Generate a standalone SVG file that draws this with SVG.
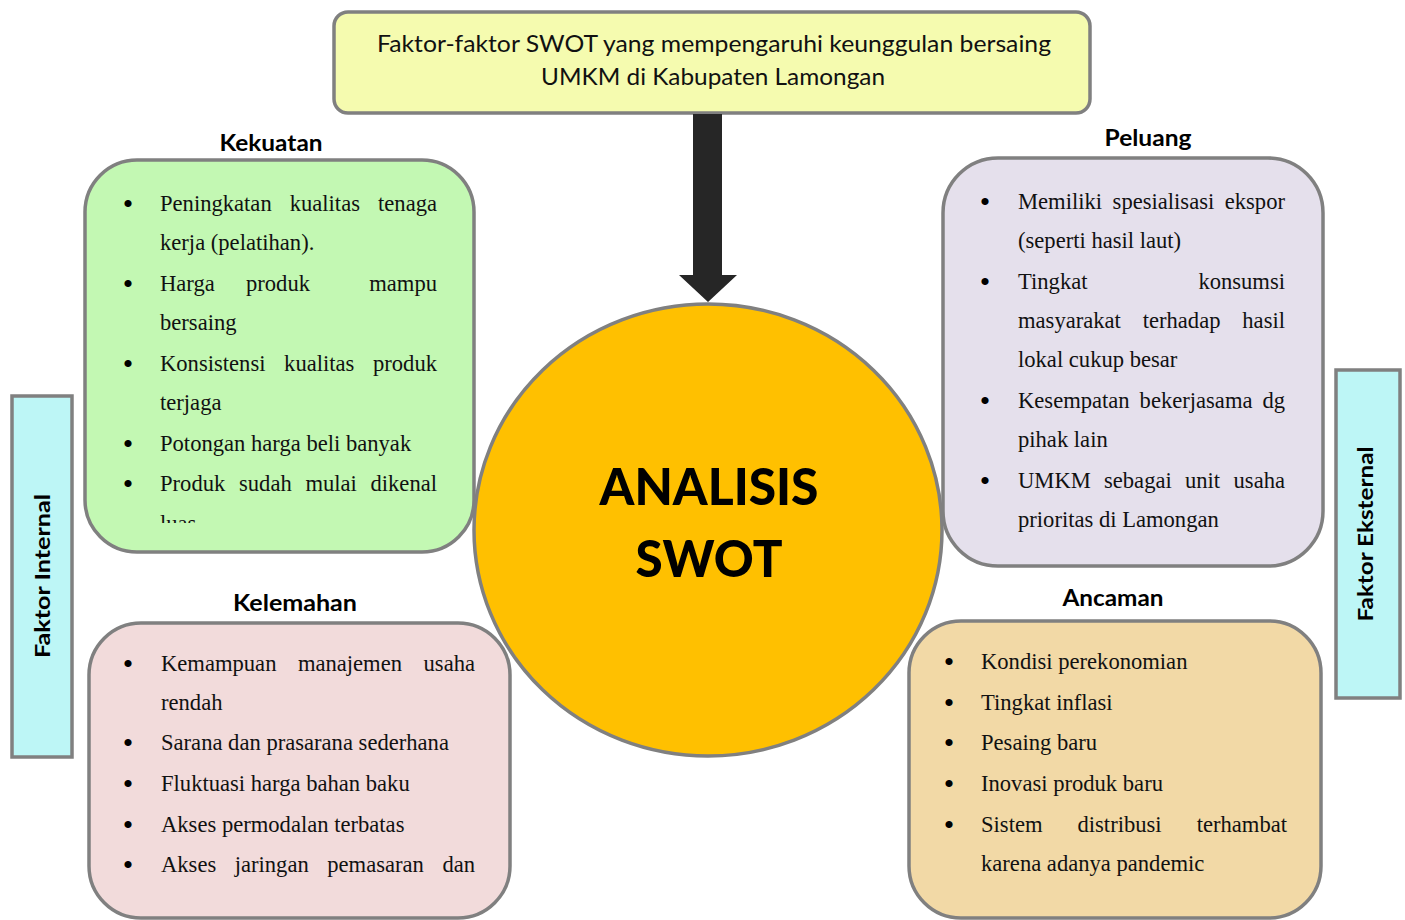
<svg xmlns="http://www.w3.org/2000/svg" width="1405" height="920" viewBox="0 0 1405 920">
<style>
.box{stroke:#808080;stroke-width:3.5}
.b{font-family:"Liberation Serif","Times New Roman",serif;font-size:22.6px;fill:#111}
.e{text-anchor:end}
.bl{font-family:"Liberation Serif","Times New Roman",serif;font-size:30px;fill:#000;text-anchor:middle}
.h{font-family:Lato,"Open Sans",sans-serif;font-weight:bold;font-size:22px;fill:#000;text-anchor:middle}
.t{font-family:Lato,"Open Sans",sans-serif;font-size:23px;fill:#111;text-anchor:middle}
.big{font-family:Lato,"Open Sans",sans-serif;font-weight:900;font-size:52px;fill:#000;text-anchor:middle}
.v{font-family:Lato,"Open Sans",sans-serif;font-weight:bold;font-size:21px;fill:#000;text-anchor:middle}
</style>
<defs>
<clipPath id="clipK"><rect x="85" y="160" width="389" height="363"/></clipPath>
</defs>
<rect width="1405" height="920" fill="#fff"/>

<g id="faktor-internal">
<rect class="box" x="12" y="396" width="60" height="361" fill="#BDF6F6"/>
<text class="v" transform="translate(50,576) rotate(-90)" textLength="164" lengthAdjust="spacingAndGlyphs">Faktor Internal</text>
</g>
<g id="faktor-eksternal">
<rect class="box" x="1336" y="370" width="64" height="328" fill="#BDF6F6"/>
<text class="v" transform="translate(1373,534) rotate(-90)" textLength="175" lengthAdjust="spacingAndGlyphs">Faktor Eksternal</text>
</g>

<g id="kekuatan">
<text class="h" x="271" y="151" textLength="103" lengthAdjust="spacingAndGlyphs">Kekuatan</text>
<rect class="box" x="85" y="160" width="389" height="392" rx="52" fill="#C3F8B3"/>
<g clip-path="url(#clipK)">
<text class="bl" x="128" y="214">•</text>
<text class="b" x="160" y="211">Peningkatan</text><text class="b" x="289.7" y="211">kualitas</text><text class="b e" x="437" y="211">tenaga</text>
<text class="b" x="160" y="250">kerja (pelatihan).</text>
<text class="bl" x="128" y="294">•</text>
<text class="b" x="160" y="291">Harga</text><text class="b" x="246" y="291">produk</text><text class="b e" x="437" y="291">mampu</text>
<text class="b" x="160" y="330">bersaing</text>
<text class="bl" x="128" y="374">•</text>
<text class="b" x="160" y="371">Konsistensi</text><text class="b" x="284.1" y="371">kualitas</text><text class="b e" x="437" y="371">produk</text>
<text class="b" x="160" y="410">terjaga</text>
<text class="bl" x="128" y="454">•</text>
<text class="b" x="160" y="451">Potongan harga beli banyak</text>
<text class="bl" x="128" y="494">•</text>
<text class="b" x="160" y="491">Produk</text><text class="b" x="239" y="491">sudah</text><text class="b" x="305.4" y="491">mulai</text><text class="b e" x="437" y="491">dikenal</text>
<text class="b" x="160" y="531">luas</text>
</g>
</g>

<g id="kelemahan">
<text class="h" x="295" y="611" textLength="124" lengthAdjust="spacingAndGlyphs">Kelemahan</text>
<rect class="box" x="89" y="623" width="421" height="295" rx="52" fill="#F2DBDB"/>
<text class="bl" x="128" y="674">•</text>
<text class="b" x="161" y="671">Kemampuan</text><text class="b" x="297.9" y="671">manajemen</text><text class="b e" x="475" y="671">usaha</text>
<text class="b" x="161" y="710">rendah</text>
<text class="bl" x="128" y="753">•</text>
<text class="b" x="161" y="750">Sarana dan prasarana sederhana</text>
<text class="bl" x="128" y="794">•</text>
<text class="b" x="161" y="791">Fluktuasi harga bahan baku</text>
<text class="bl" x="128" y="835">•</text>
<text class="b" x="161" y="832">Akses permodalan terbatas</text>
<text class="bl" x="128" y="875">•</text>
<text class="b" x="161" y="872">Akses</text><text class="b" x="234.7" y="872">jaringan</text><text class="b" x="327.3" y="872">pemasaran</text><text class="b e" x="475" y="872">dan</text>
</g>

<g id="peluang">
<text class="h" x="1148" y="146" textLength="87" lengthAdjust="spacingAndGlyphs">Peluang</text>
<rect class="box" x="943" y="158" width="380" height="408" rx="55" fill="#E5E0EC"/>
<text class="bl" x="985" y="212">•</text>
<text class="b" x="1018" y="209">Memiliki</text><text class="b" x="1112.6" y="209">spesialisasi</text><text class="b e" x="1285" y="209">ekspor</text>
<text class="b" x="1018" y="248">(seperti hasil laut)</text>
<text class="bl" x="985" y="292">•</text>
<text class="b" x="1018" y="289">Tingkat</text><text class="b e" x="1285" y="289">konsumsi</text>
<text class="b" x="1018" y="328">masyarakat</text><text class="b" x="1142.7" y="328">terhadap</text><text class="b e" x="1285" y="328">hasil</text>
<text class="b" x="1018" y="367">lokal cukup besar</text>
<text class="bl" x="985" y="411">•</text>
<text class="b" x="1018" y="408">Kesempatan</text><text class="b" x="1139.6" y="408">bekerjasama</text><text class="b e" x="1285" y="408">dg</text>
<text class="b" x="1018" y="447">pihak lain</text>
<text class="bl" x="985" y="491">•</text>
<text class="b" x="1018" y="488">UMKM</text><text class="b" x="1104" y="488">sebagai</text><text class="b" x="1185" y="488">unit</text><text class="b e" x="1285" y="488">usaha</text>
<text class="b" x="1018" y="527">prioritas di Lamongan</text>
</g>

<g id="ancaman">
<text class="h" x="1113" y="606" textLength="101" lengthAdjust="spacingAndGlyphs">Ancaman</text>
<rect class="box" x="909" y="621" width="412" height="297" rx="52" fill="#F2D9A6"/>
<text class="bl" x="949" y="672">•</text>
<text class="b" x="981" y="669">Kondisi perekonomian</text>
<text class="bl" x="949" y="713">•</text>
<text class="b" x="981" y="710">Tingkat inflasi</text>
<text class="bl" x="949" y="753">•</text>
<text class="b" x="981" y="750">Pesaing baru</text>
<text class="bl" x="949" y="794">•</text>
<text class="b" x="981" y="791">Inovasi produk baru</text>
<text class="bl" x="949" y="835">•</text>
<text class="b" x="981" y="832">Sistem</text><text class="b" x="1077.5" y="832">distribusi</text><text class="b e" x="1287" y="832">terhambat</text>
<text class="b" x="981" y="871">karena adanya pandemic</text>
</g>

<g id="analisis-swot">
<ellipse class="box" cx="708" cy="530" rx="234" ry="226" fill="#FFC000"/>
<text class="big" x="709" y="505" textLength="219" lengthAdjust="spacingAndGlyphs">ANALISIS</text>
<text class="big" x="709" y="577" textLength="147" lengthAdjust="spacingAndGlyphs">SWOT</text>
</g>

<g id="title">
<rect class="box" x="334" y="12" width="756" height="101" rx="14" fill="#F5FBAF"/>
<text class="t" x="714" y="52" textLength="674" lengthAdjust="spacingAndGlyphs">Faktor-faktor SWOT yang mempengaruhi keunggulan bersaing</text>
<text class="t" x="713" y="85" textLength="344" lengthAdjust="spacingAndGlyphs">UMKM di Kabupaten Lamongan</text>
</g>

<g id="connectors">
<polygon points="693,114 722,114 722,275 737,275 708,302 679,275 693,275" fill="#262626"/>
</g>
</svg>
